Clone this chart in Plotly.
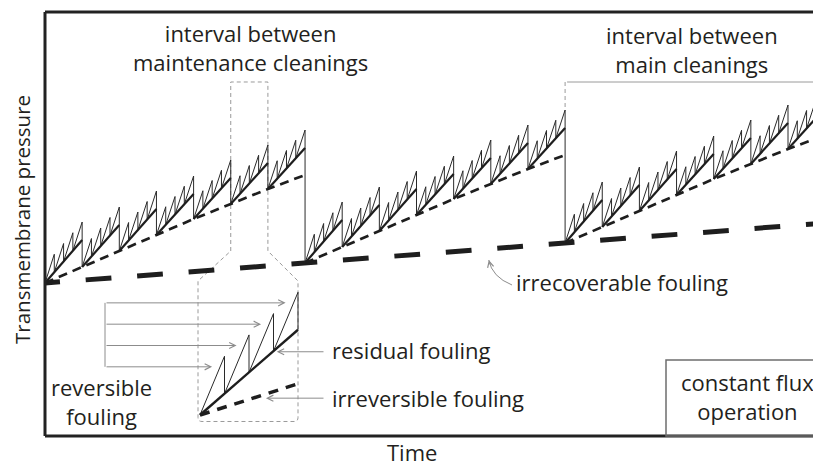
import plotly.graph_objects as go

# ---------------- data (schematic, arbitrary units) ----------------
# time in units of one maintenance-cleaning interval, pressure in arbitrary units
main_cleaning_times = [0, 7, 14, 21]
irrecoverable_level = [153, 173, 193, 213]              # TMP right after each main cleaning
irreversible_offset = [0, 16, 32, 48, 64, 79, 94, 108]  # TMP after each maintenance cleaning (above irrecoverable)
residual_rise = [43, 42, 42, 41, 41, 41, 41]            # residual fouling growth within each interval
reversible_peak = 18                                     # reversible fouling removed by every backwash
teeth_per_interval = 4
inset_interval = 5                                       # interval shown enlarged in the inset

# ---------------- layout geometry ----------------
W_IMG, H_IMG = 813, 467
L, T, B = 45, 12, 436
PW, PH = W_IMG - L, B - T
PX_PER_T = 37.15
X_END = PW / PX_PER_T

def PX(px):
    return (px - L) / PW

def PY(py):
    return (B - py) / PH

def px_of_t(t):
    return L + PX_PER_T * t

# inset mapping (pixels)
IX0, IXS, IY0, IYS = 200, 98, 415, 2.08

INK = "#1e1e1e"
GRAY = "#8c8c8c"
FONT = "Open Sans"

# ---------------- build main curves ----------------
irr_x, irr_y, res_x, res_y, saw_x, saw_y = [], [], [], [], [], []
n_int = len(residual_rise)
for c in range(3):
    t0, p0 = main_cleaning_times[c], irrecoverable_level[c]
    for j, off in enumerate(irreversible_offset):
        irr_x.append(t0 + j)
        irr_y.append(p0 + off)
    irr_x.append(None); irr_y.append(None)
    for j in range(n_int):
        ts, ps, R = t0 + j, p0 + irreversible_offset[j], residual_rise[j]
        res_x += [ts, ts + 1, None]
        res_y += [ps, ps + R, None]
        n = teeth_per_interval
        for k in range(n):
            ta, tb = ts + k / n, ts + (k + 1) / n
            ra, rb = ps + R * k / n, ps + R * (k + 1) / n
            if k < n - 1:
                bottom = rb
            elif j < n_int - 1:
                bottom = p0 + irreversible_offset[j + 1]
            else:
                bottom = irrecoverable_level[c + 1]
            saw_x += [ta, tb, tb, None]
            saw_y += [ra, rb + reversible_peak, bottom, None]

# inset curves (one interval, enlarged)
Ri = residual_rise[inset_interval]
Ii = irreversible_offset[inset_interval + 1] - irreversible_offset[inset_interval]
ins_saw_x, ins_saw_y = [], []
n = teeth_per_interval
for k in range(n):
    ta, tb = k / n, (k + 1) / n
    ra, rb = Ri * k / n, Ri * (k + 1) / n
    ins_saw_x += [ta, tb, tb, None]
    ins_saw_y += [ra, rb + reversible_peak, rb, None]

fig = go.Figure()

# thick dashed irrecoverable line: first partial dash then regular dashes
dash_thick = "15px," + ",".join(["25.8px"] * 40)
fig.add_trace(go.Scatter(x=main_cleaning_times, y=irrecoverable_level, mode="lines",
                         line=dict(color=INK, width=5, dash=dash_thick), hoverinfo="skip"))
fig.add_trace(go.Scatter(x=irr_x, y=irr_y, mode="lines",
                         line=dict(color=INK, width=2.7, dash="9px,6px"), hoverinfo="skip"))
fig.add_trace(go.Scatter(x=saw_x, y=saw_y, mode="lines",
                         line=dict(color="#2a2a2a", width=1), hoverinfo="skip"))
fig.add_trace(go.Scatter(x=res_x, y=res_y, mode="lines",
                         line=dict(color=INK, width=2.2), hoverinfo="skip"))

# inset
fig.add_trace(go.Scatter(x=[0, 1], y=[0, Ii], xaxis="x2", yaxis="y2", mode="lines",
                         line=dict(color=INK, width=3.5, dash="10px,8px"), hoverinfo="skip"))
fig.add_trace(go.Scatter(x=ins_saw_x, y=ins_saw_y, xaxis="x2", yaxis="y2", mode="lines",
                         line=dict(color="#2a2a2a", width=1), hoverinfo="skip"))
fig.add_trace(go.Scatter(x=[0, 1], y=[0, Ri], xaxis="x2", yaxis="y2", mode="lines",
                         line=dict(color=INK, width=2.4), hoverinfo="skip"))

shapes = []
# frame
for (x0, y0, x1, y1) in [(0, 0, 0, 1), (0, 1, 1.05, 1), (0, 0, 1.05, 0)]:
    shapes.append(dict(type="line", xref="paper", yref="paper", x0=x0, y0=y0, x1=x1, y1=y1,
                       line=dict(color="#222", width=3)))

def P(px, py):
    return f"{PX(px):.5f},{PY(py):.5f}"

# maintenance-interval bracket leading to the inset
xa, xb = px_of_t(inset_interval), px_of_t(inset_interval + 1)
top, bend = 82, 251
bl, br, btop, bbot, r = 198, 298, 281, 421.5, 4
path = (f"M{P(xa, bend)} L{P(xa, top)} L{P(xb, top)} L{P(xb, bend)} L{P(br, btop)} "
        f"L{P(br, bbot - r)} Q{P(br, bbot)} {P(br - r, bbot)} L{P(bl + r, bbot)} "
        f"Q{P(bl, bbot)} {P(bl, bbot - r)} L{P(bl, btop)} Z")
shapes.append(dict(type="path", xref="paper", yref="paper", path=path, layer="below",
                   line=dict(color="#9a9a9a", width=1, dash="4px,3px")))

# main-cleaning interval marker
t_main = main_cleaning_times[2]
drop_top = irrecoverable_level[1] + irreversible_offset[-2] + residual_rise[-1] + reversible_peak
shapes.append(dict(type="line", xref="paper", yref="paper", x0=PX(px_of_t(t_main) + 2), x1=1.02,
                   y0=PY(82), y1=PY(82), line=dict(color="#9a9a9a", width=1)))
shapes.append(dict(type="line", xref="x", yref="paper", x0=t_main, x1=t_main,
                   y0=PY(82), y1=drop_top / PH, line=dict(color="#9a9a9a", width=1, dash="4px,3px")))

# constant flux box
shapes.append(dict(type="rect", xref="paper", yref="paper", x0=PX(666), x1=1.05,
                   y0=PY(436), y1=PY(360), line=dict(color="#6d6d6d", width=1.5)))

# curved arrow for irrecoverable fouling
shapes.append(dict(type="path", xref="paper", yref="paper",
                   path=f"M{P(512, 285)} Q{P(492, 277)} {P(488.8, 260)}",
                   line=dict(color=GRAY, width=1)))

annotations = []

def text(s, px, py, xanchor="center", size=22, angle=0):
    annotations.append(dict(text=s, x=PX(px), y=PY(py), xref="paper", yref="paper",
                            showarrow=False, xanchor=xanchor, yanchor="middle", textangle=angle,
                            font=dict(family=FONT, size=size, color="#231f20")))

text("interval between<br>maintenance cleanings", 250, 47.5)
text("interval between<br>main cleanings", 692, 49)
text("irrecoverable fouling", 514, 282, "left")
text("residual fouling", 330, 350, "left")
text("irreversible fouling", 330, 398, "left")
text("reversible<br>fouling", 101, 401)
text("constant flux<br>operation", 747, 396)
text("Time", 412, 452)
text("Transmembrane pressure", 22, 220, size=20.5, angle=-90)

arrow_style = dict(showarrow=True, arrowhead=5, arrowsize=1.2, arrowwidth=1,
                   arrowcolor=GRAY, text="", standoff=0, startstandoff=0)

# reversible fouling arrows (to each backwash tooth of the inset)
tail_px = 105
f = 0.82
tip_py = []
for k in range(n):
    tau = (k + f) / n - 8 / IXS
    v = Ri * k / n + f * (Ri / n + reversible_peak)
    annotations.append(dict(x=tau, y=v, xref="x2", yref="y2", axref="pixel", ayref="pixel",
                            ax=tail_px - (IX0 + IXS * tau), ay=0, **arrow_style))
    tip_py.append(IY0 - IYS * v)
shapes.append(dict(type="line", xref="paper", yref="paper", x0=PX(tail_px), x1=PX(tail_px),
                   y0=PY(min(tip_py)), y1=PY(max(tip_py)), line=dict(color=GRAY, width=1)))

# residual / irreversible arrows
tau_r = 0.783
annotations.append(dict(x=tau_r, y=Ri * tau_r - 1.7, xref="x2", yref="y2",
                        ax=325 - (IX0 + IXS * tau_r), ay=0, **arrow_style))
tau_i = 0.673
annotations.append(dict(x=tau_i, y=Ii * tau_i - 2.0, xref="x2", yref="y2",
                        ax=325 - (IX0 + IXS * tau_i), ay=0, **arrow_style))
# head of curved irrecoverable arrow
annotations.append(dict(x=PX(488.8), y=PY(260), xref="paper", yref="paper",
                        ax=1.5, ay=6, **arrow_style))

fig.update_layout(
    width=W_IMG, height=H_IMG, autosize=False,
    margin=dict(l=L, r=0, t=T, b=H_IMG - B, pad=0),
    paper_bgcolor="white", plot_bgcolor="rgba(0,0,0,0)",
    showlegend=False,
    xaxis=dict(range=[0, X_END], visible=False, fixedrange=True, domain=[0, 1]),
    yaxis=dict(range=[0, PH], visible=False, fixedrange=True, domain=[0, 1]),
    xaxis2=dict(range=[-0.1, 1.1], visible=False, fixedrange=True, anchor="y2",
                domain=[PX(IX0 - 0.1 * IXS), PX(IX0 + 1.1 * IXS)]),
    yaxis2=dict(range=[-5, 65], visible=False, fixedrange=True, anchor="x2",
                domain=[PY(IY0 + 5 * IYS), PY(IY0 - 65 * IYS)]),
    shapes=shapes,
    annotations=annotations,
)

fig.write_html("out.html", config={"displayModeBar": False},
               post_script="document.body.style.margin='0';document.body.style.overflow='hidden';")
